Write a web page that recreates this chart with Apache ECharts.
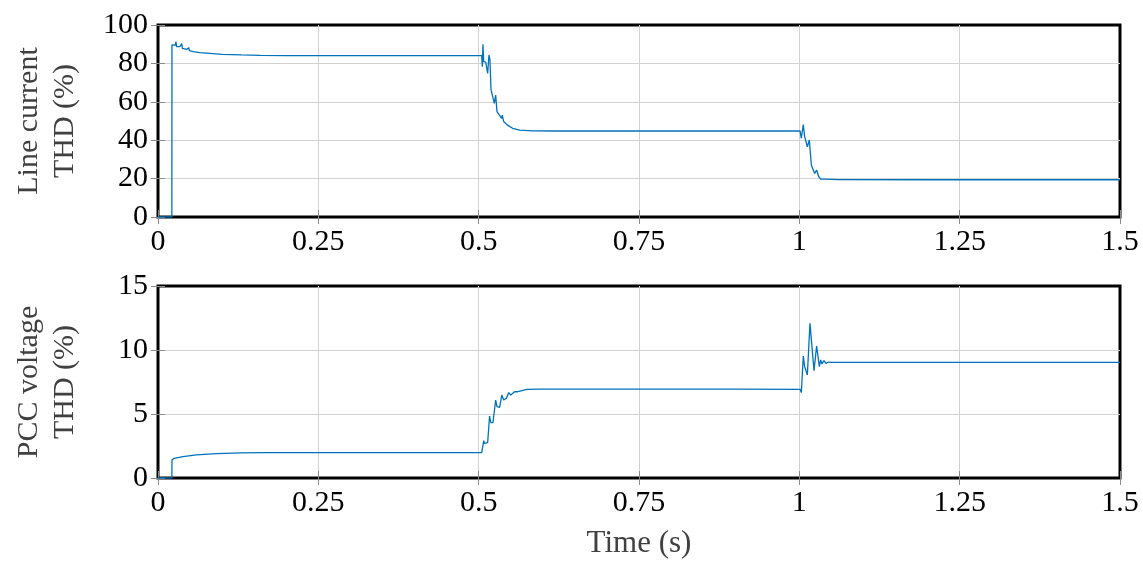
<!DOCTYPE html>
<html>
<head>
<meta charset="utf-8">
<script src="https://cdn.jsdelivr.net/npm/echarts@6/dist/echarts.min.js"></script>
<style>
  html, body { margin: 0; padding: 0; background: #fff; }
  #chart { width: 1143px; height: 563px; }
</style>
</head>
<body>
<div id="chart"></div>
<script>
// Line current THD (%) over time (s)
const lineTime = [0, 0.0216, 0.0218, 0.024, 0.027, 0.028, 0.029, 0.034, 0.036, 0.037, 0.038,
  0.0446, 0.047, 0.048, 0.049, 0.055, 0.065, 0.081, 0.1, 0.13, 0.16, 0.2, 0.3, 0.4,
  0.5047, 0.5057, 0.5067, 0.5078, 0.511, 0.514, 0.5161, 0.5176, 0.5192, 0.5223, 0.5244,
  0.5265, 0.5286, 0.5317, 0.5358, 0.5368, 0.539, 0.541, 0.544, 0.546, 0.548, 0.550,
  0.553, 0.564, 0.5845, 0.62, 0.7, 0.8, 0.9,
  1.0011, 1.0031, 1.0062, 1.0083, 1.0104, 1.0125, 1.0156, 1.0187, 1.0218, 1.0239,
  1.027, 1.0301, 1.0333, 1.0415, 1.06, 1.2, 1.5];
const lineThd = [0, 0, 89.6, 90.3, 89.5, 91.3, 88.7, 88.7, 89.5, 90.3, 87.8,
  87.3, 87.2, 88.2, 86.6, 86.1, 85.6, 85.2, 84.7, 84.4, 84.2, 84.1, 84.1, 84.1,
  84.1, 78.3, 90.0, 80.9, 80.6, 74.8, 84.4, 81.8, 66.5, 66.5, 59.2,
  63.5, 54.9, 54.0, 51.4, 53.1, 49.7, 50.5, 48.1, 48.4, 47.2, 47.6,
  46.2, 45.3, 44.9, 44.8, 44.8, 44.8, 44.8,
  44.8, 41.0, 48.1, 41.7, 39.3, 36.6, 40.1, 27.1, 26.2, 22.7,
  24.5, 21.1, 19.8, 19.7, 19.5, 19.4, 19.4];

// PCC voltage THD (%) over time (s)
const pccTime = [0, 0.0216, 0.0218, 0.025, 0.039, 0.06, 0.091, 0.13, 0.165, 0.25, 0.4,
  0.5047, 0.508, 0.509, 0.514, 0.517, 0.519, 0.5223, 0.5265, 0.5286, 0.5327, 0.536,
  0.539, 0.543, 0.547, 0.550, 0.553, 0.556, 0.561, 0.564, 0.575, 0.596, 0.7, 0.9,
  1.0011, 1.0031, 1.0062, 1.0083, 1.0125, 1.0166, 1.0229, 1.0270, 1.0312, 1.0333,
  1.0353, 1.0384, 1.0415, 1.0457, 1.05, 1.2, 1.5];
const pccThd = [0, 0, 1.41, 1.54, 1.67, 1.80, 1.90, 1.97, 1.98, 1.98, 1.98,
  1.98, 2.92, 2.71, 2.76, 4.84, 4.32, 4.32, 6.09, 5.57, 5.52, 6.48,
  6.09, 6.22, 6.67, 6.48, 6.48, 6.74, 6.74, 6.87, 6.93, 6.95, 6.95, 6.95,
  6.93, 6.67, 9.53, 8.70, 8.05, 12.08, 8.39, 10.31, 8.70, 9.22,
  8.91, 9.17, 8.96, 9.06, 9.04, 9.04, 9.04];

const xTicks = ['0', '0.25', '0.5', '0.75', '1', '1.25', '1.5'];
const lineTicks = ['0', '20', '40', '60', '80', '100'];
const pccTicks = ['0', '5', '10', '15'];

const FONT = '"Liberation Serif", "DejaVu Serif", serif';
const BLUE = '#0072BD';

const pairs = (xs, ys) => xs.map((x, i) => [x, ys[i]]);

const tickStyle = { show: true, inside: true, length: 7, lineStyle: { color: '#8a8a8a', width: 1 } };
const gridLines = { show: true, showMinLine: false, showMaxLine: false, lineStyle: { color: '#d2d2d2', width: 1 } };

function xAxisFor(gridIndex, withName) {
  return {
    type: 'value', gridIndex: gridIndex, min: 0, max: 1.5, interval: 0.25, position: 'bottom',
    axisLine: { show: false },
    axisTick: tickStyle,
    splitLine: gridLines,
    axisLabel: {
      fontFamily: FONT, fontSize: 30, color: '#000', margin: 10,
      formatter: v => xTicks[Math.round(v / 0.25)]
    },
    name: withName ? 'Time (s)' : '',
    nameLocation: 'middle', nameGap: 50,
    nameTextStyle: { fontFamily: FONT, fontSize: 31, color: '#404040' }
  };
}

// tick marks mirrored on the top edge
function xMirror(gridIndex) {
  return {
    type: 'value', gridIndex: gridIndex, min: 0, max: 1.5, interval: 0.25, position: 'top',
    axisLine: { show: false }, axisTick: tickStyle, splitLine: { show: false },
    axisLabel: { show: false }
  };
}

function yAxisFor(gridIndex, max, interval, ticks, name) {
  return {
    type: 'value', gridIndex: gridIndex, min: 0, max: max, interval: interval, position: 'left',
    axisLine: { show: false },
    axisTick: tickStyle,
    splitLine: gridLines,
    axisLabel: {
      fontFamily: FONT, fontSize: 30, color: '#000', margin: 10,
      formatter: v => ticks[Math.round(v / interval)]
    },
    name: name, nameLocation: 'middle', nameRotate: 90, nameGap: 75,
    nameTextStyle: { fontFamily: FONT, fontSize: 30, color: '#404040', lineHeight: 36 }
  };
}

// tick marks mirrored on the right edge
function yMirror(gridIndex, max, interval) {
  return {
    type: 'value', gridIndex: gridIndex, min: 0, max: max, interval: interval, position: 'right',
    axisLine: { show: false }, axisTick: tickStyle, splitLine: { show: false },
    axisLabel: { show: false }
  };
}

const chart = echarts.init(document.getElementById('chart'), null, { renderer: 'canvas' });
chart.setOption({
  animation: false,
  backgroundColor: '#fff',
  grid: [
    { left: 158, right: 23, top: 25, height: 192, show: true, borderColor: '#000', borderWidth: 3, backgroundColor: 'transparent' },
    { left: 158, right: 23, top: 286, height: 192, show: true, borderColor: '#000', borderWidth: 3, backgroundColor: 'transparent' }
  ],
  xAxis: [xAxisFor(0, false), xAxisFor(1, true), xMirror(0), xMirror(1)],
  yAxis: [
    yAxisFor(0, 100, 20, lineTicks, 'Line current\nTHD (%)'),
    yAxisFor(1, 15, 5, pccTicks, 'PCC voltage\nTHD (%)'),
    yMirror(0, 100, 20),
    yMirror(1, 15, 5)
  ],
  series: [
    {
      type: 'line', xAxisIndex: 0, yAxisIndex: 0, data: pairs(lineTime, lineThd),
      showSymbol: false, lineStyle: { color: BLUE, width: 1.3 }, z: 5
    },
    {
      type: 'line', xAxisIndex: 1, yAxisIndex: 1, data: pairs(pccTime, pccThd),
      showSymbol: false, lineStyle: { color: BLUE, width: 1.3 }, z: 5
    }
  ]
});
</script>
</body>
</html>
